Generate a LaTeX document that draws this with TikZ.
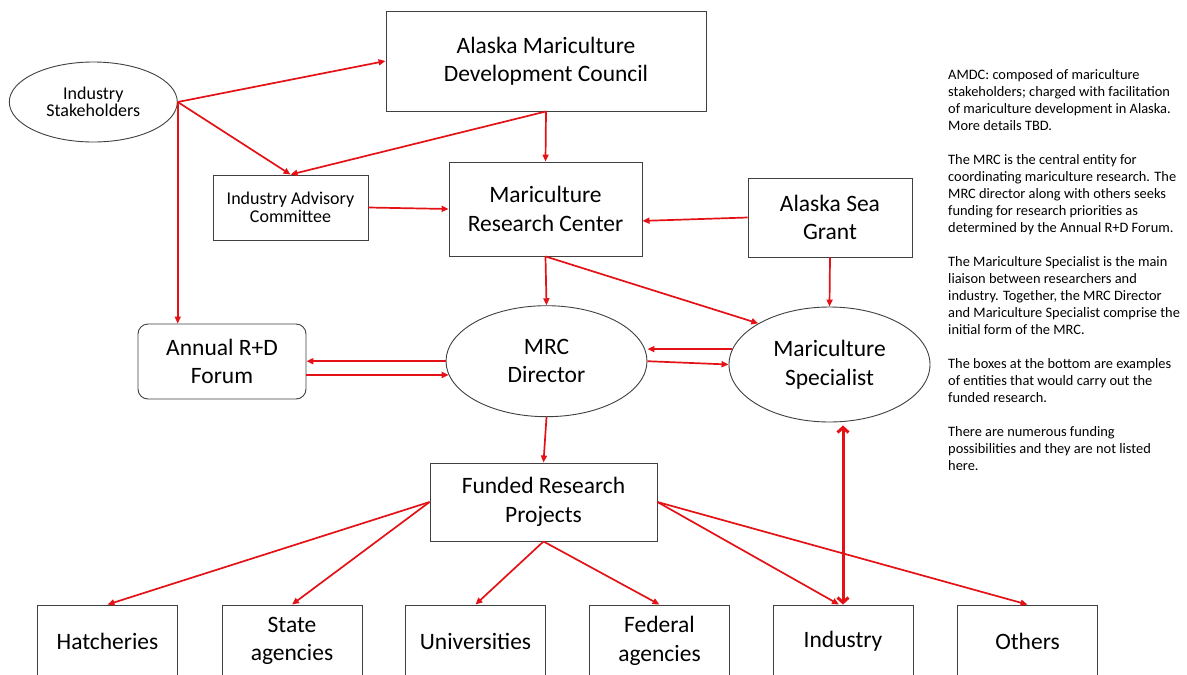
\documentclass[tikz,border=0pt]{standalone}
\usepackage{fontspec}
\setmainfont{Carlito}
\usetikzlibrary{
    arrows.meta,
    shapes.geometric,
}
\definecolor{linkred}{RGB}{228,18,22}
\definecolor{edgegray}{RGB}{64,64,64}

\begin{document}
\begin{tikzpicture}
  [x=1pt,y=-1pt,
   bigtext/.style={font=\fontsize{23.5}{28.5}\selectfont},
   smalltext/.style={font=\fontsize{18}{17.5}\selectfont},
   notetext/.style={font=\fontsize{14.4}{17}\selectfont},
   box/.style={draw=edgegray,line width=0.9pt,align=center,inner sep=0pt},
   oval/.style={box,ellipse},
   link/.style={color=linkred,line width=1.7pt,-{Triangle[length=7pt,width=6pt]}},
   twoway/.style={color=linkred,line width=3pt,
     {Straight Barb[length=5pt,width=11pt]}-{Straight Barb[length=5pt,width=11pt]}}]

  \useasboundingbox (0,0) rectangle (1187,675);
  \fill[white] (0,0) rectangle (1187,675);

  \node[oval,smalltext,minimum width=168pt,minimum height=80pt] (ist) at (93.3,102) {Industry\\Stakeholders};
  \node[box,bigtext,minimum width=320pt,minimum height=100pt] (amdc) at (546,61) {Alaska Mariculture\\Development Council};
  \node[box,smalltext,minimum width=155pt,minimum height=65pt] (iac) at (290.5,207.5) {Industry Advisory\\Committee};
  \node[box,bigtext,minimum width=193pt,minimum height=94pt] (mrc) at (545.5,209) {Mariculture\\Research Center};
  \node[box,bigtext,minimum width=164pt,minimum height=79pt] (asg) at (830,217.5) {Alaska Sea\\Grant};
  \node[box,bigtext,rounded corners=10pt,minimum width=168pt,minimum height=75pt] (rdforum) at (222,361.5) {Annual R+D\\Forum};
  \node[oval,bigtext,minimum width=201pt,minimum height=111pt] (dir) at (546.5,361.2) {MRC\\Director};
  \node[oval,bigtext,minimum width=201pt,minimum height=115pt] (ms) at (829.5,364.5) {Mariculture\\Specialist};
  \node[box,bigtext,minimum width=227pt,minimum height=78pt] (frp) at (543.5,502) {Funded Research\\Projects};

  \node[box,bigtext,minimum width=140pt,minimum height=72pt] (hat) at (107.5,641) {Hatcheries};
  \node[box,bigtext,minimum width=140pt,minimum height=72pt] (state) at (292,641) {State\\agencies};
  \node[box,bigtext,minimum width=140pt,minimum height=72pt] (uni) at (475.5,641) {Universities};
  \node[box,bigtext,minimum width=140pt,minimum height=72pt] (fed) at (659.5,641) {Federal\\agencies};
  \node[box,bigtext,minimum width=140pt,minimum height=72pt] (ind) at (843,641) {Industry};
  \node[box,bigtext,minimum width=140pt,minimum height=72pt] (oth) at (1027.5,641) {Others};

  \node[notetext,anchor=north west,align=left,inner sep=0pt] (note) at (948,69)
    {AMDC: composed of mariculture\\
     stakeholders; charged with facilitation\\
     of mariculture development in Alaska.\\
     More details TBD.\\[17pt]
     The MRC is the central entity for\\
     coordinating mariculture research. The\\
     MRC director along with others seeks\\
     funding for research priorities as\\
     determined by the Annual R+D Forum.\\[17pt]
     The Mariculture Specialist is the main\\
     liaison between researchers and\\
     industry. Together, the MRC Director\\
     and Mariculture Specialist comprise the\\
     initial form of the MRC.\\[17pt]
     The boxes at the bottom are examples\\
     of entities that would carry out the\\
     funded research.\\[17pt]
     There are numerous funding\\
     possibilities and they are not listed\\
     here.};

  \draw[link] (ist.east) -- (amdc.west);
  \draw[link] (ist.east) -- (iac.north);
  \draw[link] (ist.east) -- (ist.east |- rdforum.north);
  \draw[link] (amdc.south) -- (iac.north);
  \draw[link] (amdc.south) -- (mrc.north);
  \draw[link] (iac.east) -- (mrc.west);
  \draw[link] (asg.west) -- (mrc.-7);
  \draw[link] (mrc.south) -- (dir.north);
  \draw[link] (mrc.south) -- (ms.150);
  \draw[link] (asg.south) -- (ms.north);
  \draw[link] (dir.west) -- (dir.west -| rdforum.east);
  \draw[link] (rdforum.east |- dir.188) -- (dir.188);
  \draw[link] (ms.171) -- (ms.171 -| dir.east);
  \draw[link] (dir.east) -- (ms.west);
  \draw[link] (dir.south) -- (frp.north);
  \draw[link] (frp.west) -- (hat.north);
  \draw[link] (frp.west) -- (state.north);
  \draw[link] (frp.south) -- (uni.north);
  \draw[link] (frp.south) -- (fed.north);
  \draw[link] (frp.east) -- ([xshift=-4pt]ind.north);
  \draw[link] (frp.east) -- (oth.north);
  \draw[twoway,shorten <=3pt] (ind.north |- ms.south) -- (ind.north);
\end{tikzpicture}
\end{document}
